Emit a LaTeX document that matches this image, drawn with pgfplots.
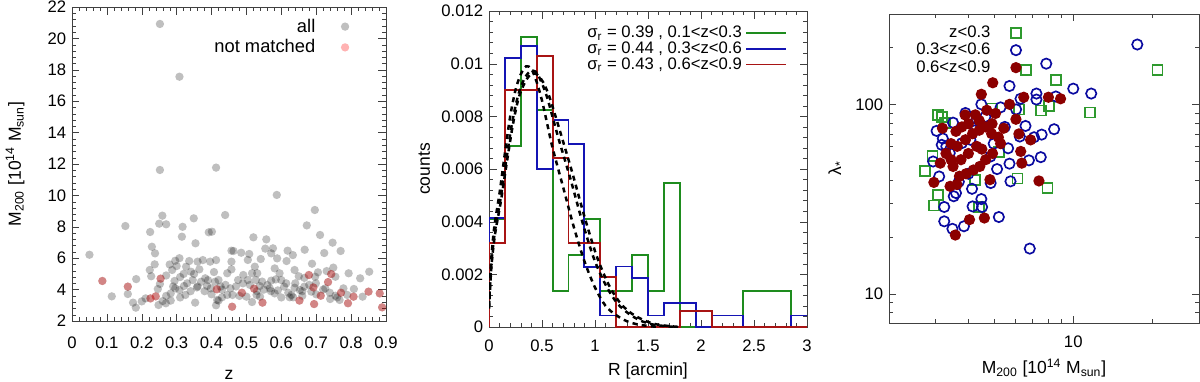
\documentclass[border=0pt]{standalone}
\usepackage{fontspec}
\setmainfont{Liberation Sans}
\usepackage{pgfplots}
\pgfplotsset{compat=1.18}
\definecolor{hgreen}{HTML}{1E8C1E}
\definecolor{hblue}{HTML}{1414B4}
\definecolor{hred}{HTML}{A81414}
\definecolor{sqgreen}{HTML}{2E9A2E}
\definecolor{cblue}{HTML}{0A0AA0}
\definecolor{dotred}{HTML}{8C0000}
\pgfplotsset{
    panel/.style = {
        scale only axis,
        anchor = south west,
        axis line style = {black!75},
        tick style = {black!75},
        tick align = inside,
        major tick length = 4.5pt,
        minor tick length = 2.4pt,
        tick label style = {font = \fontsize{10}{12}\selectfont},
        label style = {font = \fontsize{10.5}{12}\selectfont},
        legend style = {draw = none, fill = none, font = \fontsize{10}{12}\selectfont},
        /pgf/number format/assume math mode = true
    },
    % legend marker pushed right of its cell, away from the text
    markat/.style = {legend image code/.code = {
        \draw[opacity = 0] (0cm,0cm) -- (#1,0cm);
        \draw[##1] plot coordinates {(#1,0cm)};}}
}

\begin{document}
\begin{tikzpicture}
\useasboundingbox (0,0) rectangle (720pt,228.6pt);

% ---------- left: M200 vs z
\begin{axis}[
    panel,
    at = {(43.2pt,36pt)},
    width = 188.4pt, height = 188.4pt,
    xmin = 0, xmax = 0.9, ymin = 2, ymax = 22,
    xtick = {0,0.1,...,0.9}, ytick = {2,4,...,22},
    minor x tick num = 4, minor y tick num = 4,
    xticklabel shift = 6pt,
    xlabel = {z},
    xlabel style = {yshift = -6pt},
    ylabel = {M\textsubscript{200} [10\textsuperscript{14} M\textsubscript{sun}]},
    ylabel style = {yshift = 7pt},
    legend plot pos = right,
    legend style = {at = {(0.90,0.985)}, anchor = north east, row sep = -1pt,
        cells = {anchor = east}, font = \fontsize{11}{13}\selectfont}
]
\addplot[only marks, mark = *, mark size = 2.5pt,
    mark options = {draw opacity = 0, fill = black, fill opacity = 0.25},
    markat = 0.55cm] coordinates {
(0.252,20.92) (0.308,17.56) (0.252,11.62) (0.413,11.77) (0.587,10.03)
(0.696,9.07) (0.673,8.09) (0.711,7.48) (0.747,6.99)
(0.050,6.22) (0.153,8.05) (0.114,3.57) (0.160,3.72) (0.087,4.55) (0.160,4.19)
(0.184,4.67) (0.175,3.17) (0.183,2.85) (0.200,3.25) (0.211,3.44) (0.224,7.67)
(0.229,6.73) (0.238,6.31) (0.237,5.61) (0.223,5.25) (0.227,4.85) (0.250,8.20)
(0.259,8.71) (0.270,8.16) (0.254,4.70) (0.225,3.44) (0.240,3.57) (0.246,4.04)
(0.252,4.36) (0.248,3.02) (0.260,3.27) (0.269,3.13) (0.283,3.30) (0.283,3.76)
(0.287,5.25) (0.296,5.84) (0.308,6.00) (0.317,8.00) (0.315,7.37) (0.294,4.55)
(0.296,4.08) (0.308,3.97) (0.321,4.23) (0.325,3.66) (0.327,5.46) (0.336,5.82)
(0.349,8.54) (0.354,6.95) (0.341,5.14) (0.346,4.61) (0.358,4.14) (0.353,3.17)
(0.365,5.29) (0.360,5.78) (0.375,5.88) (0.382,4.72) (0.392,7.65) (0.401,7.69)
(0.396,5.78) (0.413,5.88) (0.407,5.12) (0.387,4.23) (0.398,4.08) (0.415,4.02)
(0.420,4.61) (0.426,4.19) (0.416,3.34) (0.413,3.00) (0.430,3.51) (0.439,8.75)
(0.457,6.48) (0.457,5.78) (0.445,5.04) (0.454,4.08) (0.445,3.66) (0.459,2.91)
(0.770,6.46) (0.723,6.33) (0.667,6.54) (0.688,5.65) (0.749,5.40) (0.730,5.18)
(0.743,4.99) (0.679,4.93) (0.734,4.48) (0.793,5.04) (0.826,4.72) (0.852,5.14)
(0.808,4.04) (0.833,3.55) (0.850,3.87) (0.882,3.76) (0.889,2.87) (0.807,3.55)
(0.791,3.13) (0.771,3.80) (0.767,3.34) (0.755,3.61) (0.739,3.80) (0.726,4.08)
(0.699,4.40) (0.713,3.61) (0.692,4.14) (0.694,3.08) (0.652,3.30) (0.686,3.87)
(0.666,4.19) (0.653,3.97) (0.638,4.12) (0.629,3.66) (0.624,3.51) (0.614,4.40)
(0.600,4.61) (0.595,5.04) (0.615,5.82) (0.618,6.48) (0.633,6.20) (0.588,5.99)
(0.581,5.35) (0.584,4.65) (0.571,4.57) (0.567,4.08) (0.560,4.29) (0.545,4.51)
(0.541,5.95) (0.554,6.61) (0.557,7.20) (0.571,6.31) (0.576,6.63) (0.520,7.33)
(0.508,6.27) (0.504,5.89) (0.485,6.35) (0.463,6.46) (0.457,5.29) (0.491,4.93)
(0.516,5.04) (0.524,5.46) (0.531,5.04) (0.527,4.61) (0.538,4.23) (0.504,4.61)
(0.476,4.61) (0.460,3.66) (0.487,3.80) (0.522,4.06) (0.529,3.66) (0.539,3.55)
(0.546,3.17) (0.516,3.21) (0.500,3.55) (0.634,3.51) (0.608,4.19) (0.581,3.76)
(0.590,3.95) (0.638,5.25) (0.650,4.85) (0.666,4.75) (0.697,4.82) (0.705,5.10)
(0.755,4.82) (0.778,4.08) (0.789,3.66)
(0.27,4.9) (0.28,5.6) (0.30,5.5) (0.31,4.8) (0.33,4.4) (0.34,3.9) (0.37,4.5)
(0.38,3.9) (0.39,4.6) (0.40,3.7) (0.41,4.5) (0.42,3.3) (0.43,4.0) (0.44,4.3)
(0.35,5.0) (0.36,4.2) (0.31,3.5) (0.27,3.6) (0.29,4.2) (0.32,5.0) (0.62,3.8)
(0.64,4.4) (0.66,3.6) (0.60,3.5) (0.57,3.9) (0.55,4.0) (0.53,3.9) (0.51,4.3)
(0.49,4.4) (0.47,4.2) (0.48,3.6) (0.70,3.7) (0.72,4.0) (0.74,3.4) (0.76,3.5)
(0.68,4.3) (0.66,3.9)
};
\addlegendentry{all}
\addplot[only marks, mark = *, mark size = 2.5pt,
    mark options = {draw opacity = 0, fill = red, fill opacity = 0.3},
    markat = 0.55cm] coordinates {
(0.087,4.55) (0.160,4.19) (0.254,4.70) (0.225,3.44) (0.240,3.57) (0.415,4.02)
(0.459,2.91) (0.743,4.99) (0.679,4.93) (0.734,4.48) (0.850,3.87) (0.882,3.76)
(0.889,2.87) (0.807,3.55) (0.791,3.13) (0.771,3.80) (0.713,3.61) (0.692,4.14)
(0.694,3.08) (0.652,3.30) (0.487,3.80) (0.522,4.06) (0.546,3.17)
};
\addlegendentry{not matched}
\end{axis}

% ---------- middle: histograms of R
\begin{axis}[
    panel,
    at = {(293.4pt,32.4pt)},
    width = 190.8pt, height = 189.6pt,
    xmin = 0, xmax = 3, ymin = 0, ymax = 0.012,
    xtick = {0,0.5,...,3}, ytick = {0,0.002,...,0.012},
    minor x tick num = 4, minor y tick num = 4,
    scaled y ticks = false,
    yticklabel style = {/pgf/number format/fixed, /pgf/number format/precision = 3},
    xticklabel shift = 4pt,
    xlabel = {R [arcmin]}, ylabel = {counts},
    legend plot pos = right,
    legend cell align = right,
    legend image code/.code = {\draw[#1] (0cm,0cm) -- (0.85cm,0cm);},
    legend style = {at = {(0.955,0.975)}, anchor = north east, row sep = -3pt,
        /tikz/every even column/.append style = {column sep = 2pt}}
]
\addplot[const plot mark left, hgreen, line width = 1.1pt] coordinates {
(0,0) (0,0.0041) (0.15,0.00687) (0.3,0.0110) (0.45,0.00825) (0.6,0.00137)
(0.75,0.00274) (0.9,0.0041) (1.05,0.00137) (1.2,0.00137) (1.35,0.00274)
(1.5,0.00137) (1.65,0.00548) (1.8,0) (1.95,0) (2.1,0) (2.25,0) (2.4,0.00137)
(2.55,0.00137) (2.7,0.00137) (2.85,0) (3,0)
};
\addlegendentry{σ\textsubscript{r} = 0.39 , 0.1<z<0.3}
\addplot[const plot mark left, hblue, line width = 1.1pt] coordinates {
(0,0) (0,0.00414) (0.15,0.0102) (0.3,0.01066) (0.45,0.0060) (0.6,0.00787)
(0.75,0.00694) (0.9,0.00229) (1.05,0.00044) (1.2,0.0023) (1.35,0.00185)
(1.5,0.00044) (1.65,0.00091) (1.8,0.00091) (1.95,0) (2.1,0.00044) (2.25,0.00044)
(2.4,0) (2.55,0) (2.7,0) (2.85,0.00044) (3,0.00044)
};
\addlegendentry{σ\textsubscript{r} = 0.44 , 0.3<z<0.6}
\addplot[const plot mark left, hred, line width = 1.1pt] coordinates {
(0,0) (0,0.0032) (0.15,0.0090) (0.3,0.0090) (0.45,0.0103) (0.6,0.00643)
(0.75,0.0032) (0.9,0.0032) (1.05,0.0019) (1.2,0) (1.35,0) (1.5,0) (1.65,0)
(1.8,0.00061) (1.95,0.00061) (2.1,0) (2.25,0) (2.4,0) (2.55,0) (2.7,0)
(2.85,0) (3,0)
};
\addlegendentry{σ\textsubscript{r} = 0.43 , 0.6<z<0.9}
\addplot[smooth, black, line width = 1.5pt, dash pattern = on 3pt off 2.6pt] coordinates {
(0,0.0008) (0.02,0.0025) (0.05,0.0038) (0.1,0.0051) (0.15,0.0066) (0.2,0.0080)
(0.25,0.0090) (0.3,0.0096) (0.35,0.0099) (0.4,0.0098) (0.45,0.0093) (0.5,0.0086)
(0.55,0.0077) (0.6,0.0068) (0.7,0.0053) (0.8,0.0038) (0.9,0.0025) (1.0,0.0015)
(1.1,0.0008) (1.2,0.00045) (1.3,0.00022) (1.4,0.0001) (1.5,0.00004) (1.6,0)
};
\addplot[smooth, black, line width = 1.5pt, dash pattern = on 3pt off 2.6pt] coordinates {
(0,0.0008) (0.022,0.0024) (0.055,0.0036) (0.11,0.0049) (0.165,0.0064)
(0.22,0.0078) (0.275,0.0088) (0.33,0.0094) (0.385,0.0097) (0.44,0.0097)
(0.495,0.0093) (0.55,0.0087) (0.605,0.0079) (0.66,0.0071) (0.77,0.0056)
(0.88,0.0040) (0.99,0.0026) (1.1,0.0016) (1.21,0.0009) (1.32,0.0005)
(1.43,0.00024) (1.54,0.0001) (1.65,0.00004) (1.76,0)
};
\addplot[smooth, black, line width = 1.5pt, dash pattern = on 3pt off 2.6pt] coordinates {
(0,0.0007) (0.023,0.0023) (0.056,0.0035) (0.113,0.0048) (0.17,0.0063)
(0.226,0.0077) (0.28,0.0087) (0.34,0.0093) (0.395,0.0096) (0.45,0.0096)
(0.51,0.0093) (0.565,0.0088) (0.62,0.0081) (0.68,0.0073) (0.79,0.0058)
(0.9,0.0042) (1.015,0.0027) (1.13,0.0016) (1.24,0.0009) (1.35,0.0005)
(1.47,0.00024) (1.58,0.0001) (1.69,0.00004) (1.8,0)
};
\end{axis}

% ---------- right: lambda vs M200 (log-log)
\begin{axis}[
    panel,
    at = {(533.4pt,34.8pt)},
    width = 186pt, height = 185.4pt,
    xmode = log, ymode = log,
    xmin = 2, xmax = 30, ymin = 7, ymax = 300,
    xtick = {10}, xticklabels = {10},
    ytick = {10,100}, yticklabels = {10,100},
    minor xtick = {3,4,5,6,7,8,9,20},
    minor ytick = {8,9,20,30,40,50,60,70,80,90,200,300},
    xticklabel shift = 4pt,
    xlabel = {M\textsubscript{200} [10\textsuperscript{14} M\textsubscript{sun}]},
    ylabel = {λ\textsubscript{*}},
    legend plot pos = right,
    legend style = {at = {(0.445,0.985)}, anchor = north east, row sep = -2pt,
        cells = {anchor = east}}
]
\addplot[only marks, mark = square, mark size = 3pt, sqgreen, line width = 1pt,
    markat = 0.45cm] coordinates {
(6.63,151.6) (8.59,134) (20.9,152) (11.6,90.4) (8.09,98) (7.55,92.6) (6.22,94)
(3.06,87.9) (3.17,86) (2.92,53.5) (2.74,44.3) (3.06,33.3) (2.97,29.2)
(6.14,40.5) (7.98,36.1) (4.40,28.7) (4.25,40) (3.27,79.4) (4.92,95) (5.22,56)
};
\addlegendentry{z<0.3}
\addplot[only marks, mark = o, mark size = 3.1pt, cblue, line width = 1pt,
    markat = 0.45cm] coordinates {
(17.5,207) (7.9,164) (5.73,125) (10,121) (11.7,114) (7.25,114) (7.25,106)
(8.59,110) (6.31,107) (4.48,100) (5.3,96.4) (6.07,94) (6.59,76.9) (8.46,73.9)
(7.59,69.2) (7.10,67) (7.53,52.6) (6.79,50.6) (5.73,48.6) (5.78,39.2)
(5.14,45.5) (4.86,38.4) (5.66,58.6) (5.22,25.4) (6.84,17.3) (4.48,31.6)
(4.51,28.7) (4.15,28.9) (3.85,22.7) (3.48,22.0) (3.24,24.1) (3.24,28.7)
(3.52,32.7) (3.59,34) (4.13,35.8) (3.03,72.4) (2.94,49.9) (3.1,41.6)
(3.17,61.1) (3.3,60) (3.4,55.3) (3.78,62.4) (4.07,65) (4.25,73) (4.64,86)
(4.85,53) (4.0,43) (3.68,39) (4.99,62) (6.27,67.6) (5.5,76) (3.2,66) (3.5,80)
(3.9,90) (4.3,84)
};
\addlegendentry{0.3<z<0.6}
\addplot[only marks, mark = *, mark size = 3.4pt,
    mark options = {draw opacity = 0, fill = dotred},
    markat = 0.45cm] coordinates {
(4.95,130) (4.48,113) (6.49,109) (8.05,109) (8.95,107) (5.73,100) (6.06,83.4)
(6.22,69.8) (6.89,64.9) (6.32,56.4) (6.38,48.9) (7.41,39.4) (4.83,40)
(4.6,25.1) (4.04,24.6) (3.57,20.4) (2.96,38.7) (3.13,48.9) (3.19,74.8)
(3.41,36.9) (3.62,37.7) (3.89,87.9) (4.25,88) (4.7,93) (5.07,89.5) (5.45,74.8)
(5.3,62) (4.94,55) (4.65,51) (4.42,47) (4.18,45) (3.92,43) (3.7,41.7)
(3.44,51) (3.29,55) (3.63,60) (3.9,65) (4.15,70) (4.4,73) (4.65,76) (4.9,70)
(4.3,60) (4.5,58) (4.0,55) (3.75,51) (3.5,47) (3.44,62) (3.78,76) (3.59,72)
(4.0,79) (4.92,79) (4.4,82) (5.2,67)
};
\addlegendentry{0.6<z<0.9}
\end{axis}
\end{tikzpicture}
\end{document}
